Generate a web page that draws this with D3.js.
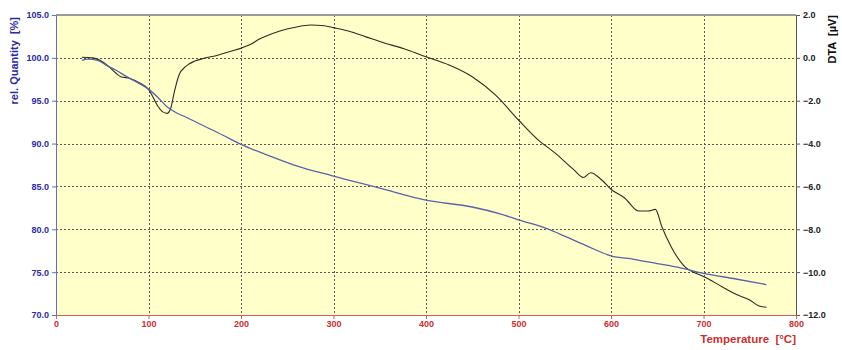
<!DOCTYPE html>
<html>
<head>
<meta charset="utf-8">
<script src="https://cdn.jsdelivr.net/npm/d3@7"></script>
<style>
  body { margin: 0; background: #fff; }
  svg { font-family: "Liberation Sans", Arial, sans-serif; }
</style>
</head>
<body>
<svg id="chart" width="842" height="350"></svg>
<script>
// temperature [°C] vs rel. quantity [%] (TG, blue, left axis)
var tgTemp = [28, 35, 45, 55, 65, 75, 85, 95, 100, 110, 120, 130, 140, 160, 180, 200, 230, 260, 300, 350, 400, 450, 480, 500, 530, 550, 575, 600, 625, 650, 675, 700, 735, 768];
var tgValue = [99.7, 99.85, 99.7, 99.1, 98.55, 97.9, 97.3, 96.7, 96.35, 95.4, 94.3, 93.6, 93.1, 92.05, 91.0, 89.9, 88.6, 87.4, 86.2, 84.8, 83.4, 82.6, 81.8, 81.1, 80.1, 79.2, 78.0, 76.9, 76.5, 76.0, 75.5, 74.85, 74.2, 73.55];

// temperature [°C] vs DTA [µV] (black, right axis)
var dtaTemp = [28, 40, 55, 65, 70, 80, 90, 100, 105, 110, 115, 120, 124, 128, 133, 140, 150, 160, 175, 188, 200, 210, 220, 230, 242, 260, 275, 290, 300, 316, 335, 350, 380, 400, 425, 450, 475, 500, 520, 540, 560, 570, 578, 590, 600, 615, 630, 640, 648, 655, 665, 680, 690, 700, 720, 735, 750, 760, 768];
var dtaValue = [0.03, 0.0, -0.33, -0.72, -0.88, -0.96, -1.16, -1.47, -1.84, -2.25, -2.51, -2.59, -2.35, -1.58, -0.8, -0.41, -0.15, -0.02, 0.12, 0.3, 0.45, 0.62, 0.88, 1.07, 1.25, 1.44, 1.53, 1.5, 1.41, 1.25, 0.98, 0.76, 0.37, 0.05, -0.33, -0.88, -1.73, -2.9, -3.78, -4.46, -5.23, -5.58, -5.36, -5.7, -6.13, -6.55, -7.15, -7.15, -7.07, -7.88, -8.81, -9.75, -10.02, -10.2, -10.68, -11.03, -11.3, -11.58, -11.64];

var xTicks = [0, 100, 200, 300, 400, 500, 600, 700, 800];
var leftTicks = [70, 75, 80, 85, 90, 95, 100, 105];
var rightTicks = [-12, -10, -8, -6, -4, -2, 0, 2];

var svg = d3.select("#chart");
var plotL = 56, plotR = 796, plotT = 15, plotB = 315;

var x = d3.scaleLinear().domain([0, 800]).range([plotL, plotR]);
var yL = d3.scaleLinear().domain([70, 105]).range([plotB, plotT]);
var yR = d3.scaleLinear().domain([-12, 2]).range([plotB, plotT]);

// plot background
svg.append("rect")
  .attr("x", plotL).attr("y", plotT)
  .attr("width", plotR - plotL).attr("height", plotB - plotT)
  .attr("fill", "#ffffca");

// grid
var grid = svg.append("g").attr("stroke", "#555").attr("stroke-width", 1).attr("stroke-dasharray", "2,2");
grid.selectAll("line.h").data(leftTicks.slice(1, -1)).enter().append("line")
  .attr("x1", plotL).attr("x2", plotR)
  .attr("y1", function(d) { return Math.round(yL(d)) + 0.5; })
  .attr("y2", function(d) { return Math.round(yL(d)) + 0.5; });
grid.selectAll("line.v").data(xTicks.slice(1, -1)).enter().append("line")
  .attr("y1", plotT).attr("y2", plotB)
  .attr("x1", function(d) { return Math.round(x(d)) + 0.5; })
  .attr("x2", function(d) { return Math.round(x(d)) + 0.5; });

// top border
svg.append("line").attr("x1", plotL).attr("x2", plotR).attr("y1", plotT).attr("y2", plotT)
  .attr("stroke", "#9a9a9a").attr("stroke-width", 2);

// axes
var axL = svg.append("g").attr("transform", "translate(" + plotL + ",0)")
  .call(d3.axisLeft(yL).tickValues(leftTicks).tickFormat(d3.format(".1f")).tickSize(4).tickSizeOuter(0).tickPadding(3));
axL.select(".domain").attr("stroke", "#6a6ac0");
axL.selectAll(".tick line").attr("stroke", "#6a6ac0");
axL.selectAll("text").attr("fill", "#2b2ba0").style("font-size", "9px").style("font-weight", "bold");

var axR = svg.append("g").attr("transform", "translate(" + plotR + ",0)")
  .call(d3.axisRight(yR).tickValues(rightTicks).tickFormat(d3.format(".1f")).tickSize(4).tickSizeOuter(0).tickPadding(3));
axR.select(".domain").attr("stroke", "#555");
axR.selectAll(".tick line").attr("stroke", "#555");
axR.selectAll("text").attr("fill", "#222").style("font-size", "9px").style("font-weight", "bold");

var axB = svg.append("g").attr("transform", "translate(0," + plotB + ")")
  .call(d3.axisBottom(x).tickValues(xTicks).tickFormat(d3.format("d")).tickSize(4).tickSizeOuter(0).tickPadding(2));
axB.select(".domain").attr("stroke", "#d06060");
axB.selectAll(".tick line").attr("stroke", "#d06060");
axB.selectAll("text").attr("fill", "#c83030").style("font-size", "9px").style("font-weight", "bold");

// curves
var lineL = d3.line().x(function(d) { return x(d[0]); }).y(function(d) { return yL(d[1]); }).curve(d3.curveMonotoneX);
var lineR = d3.line().x(function(d) { return x(d[0]); }).y(function(d) { return yR(d[1]); }).curve(d3.curveMonotoneX);

svg.append("path")
  .datum(d3.zip(dtaTemp, dtaValue))
  .attr("fill", "none").attr("stroke", "#2c2c22").attr("stroke-width", 1.1)
  .attr("d", lineR);

svg.append("path")
  .datum(d3.zip(tgTemp, tgValue))
  .attr("fill", "none").attr("stroke", "#5a62aa").attr("stroke-width", 1.3)
  .attr("d", lineL);

// axis titles
svg.append("text")
  .attr("transform", "translate(18," + (plotT + 2) + ") rotate(-90)")
  .attr("text-anchor", "end")
  .attr("fill", "#2b2ba0").style("font-size", "11px").style("font-weight", "bold")
  .style("white-space", "pre")
  .text("rel. Quantity  [%]");

svg.append("text")
  .attr("transform", "translate(836," + plotT + ") rotate(-90)")
  .attr("text-anchor", "end")
  .attr("fill", "#111").style("font-size", "11px").style("font-weight", "bold")
  .style("white-space", "pre")
  .text("DTA  [µV]");

svg.append("text")
  .attr("x", plotR).attr("y", 343)
  .attr("text-anchor", "end")
  .attr("fill", "#c83030").style("font-size", "11.5px").style("font-weight", "bold")
  .style("white-space", "pre")
  .text("Temperature  [°C]");
</script>
</body>
</html>
